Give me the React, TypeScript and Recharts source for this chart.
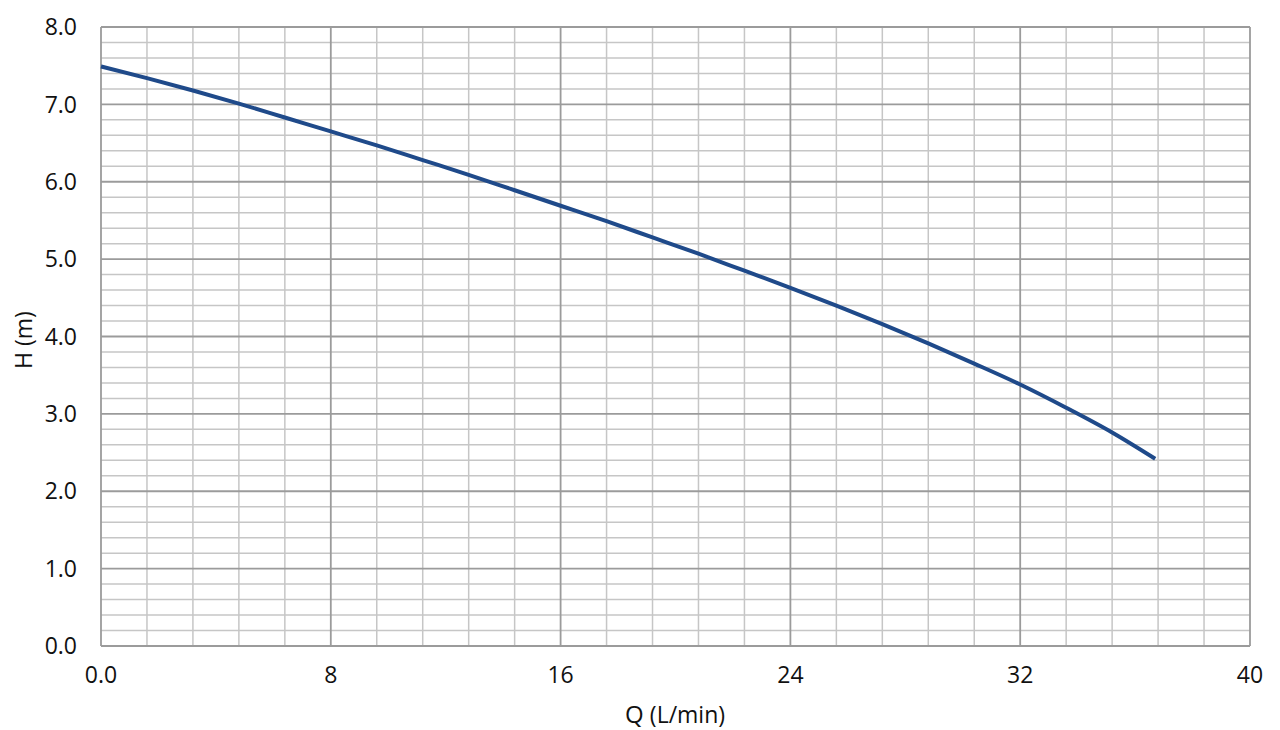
import React from "react";
import { LineChart, Line, XAxis, YAxis, ReferenceLine } from "recharts";

// Pump curve: head H (m) against flow Q (L/min)
const flowQ = [
  0, 1.6, 3.2, 4.8, 6.4, 8, 9.6, 11.2, 12.8, 14.4, 16, 17.6, 19.2, 20.8, 22.4, 24,
  25.6, 27.2, 28.8, 30.4, 32, 33.6, 35.2, 36.7,
];
const headH = [
  7.49, 7.34, 7.18, 7.01, 6.83, 6.65, 6.47, 6.28, 6.09, 5.89, 5.69, 5.49, 5.28, 5.07,
  4.85, 4.63, 4.4, 4.16, 3.91, 3.65, 3.38, 3.08, 2.76, 2.42,
];

const xTicks = [0, 8, 16, 24, 32, 40];
const yTicks = [0, 1, 2, 3, 4, 5, 6, 7, 8];
const xMinor = [
  1.6, 3.2, 4.8, 6.4, 9.6, 11.2, 12.8, 14.4, 17.6, 19.2, 20.8, 22.4, 25.6, 27.2, 28.8,
  30.4, 33.6, 35.2, 36.8, 38.4,
];
const yMinor = [
  0.2, 0.4, 0.6, 0.8, 1.2, 1.4, 1.6, 1.8, 2.2, 2.4, 2.6, 2.8, 3.2, 3.4, 3.6, 3.8,
  4.2, 4.4, 4.6, 4.8, 5.2, 5.4, 5.6, 5.8, 6.2, 6.4, 6.6, 6.8, 7.2, 7.4, 7.6, 7.8,
];

const data = flowQ.map((q, i) => ({ q, h: headH[i] }));

const FONT = "'Open Sans', 'Noto Sans', sans-serif";
const INK = "#111";
const MINOR = "#c6c6c6";
const MAJOR = "#9b9b9b";

const YTitle = () => (
  <text
    x={32}
    y={340}
    transform="rotate(-90 32 340)"
    textAnchor="middle"
    fontFamily={FONT}
    fontSize={23}
    fill={INK}
  >
    H (m)
  </text>
);

const XTitle = () => (
  <text x={675} y={723} textAnchor="middle" fontFamily={FONT} fill={INK}>
    <tspan fontSize={24}>Q </tspan>
    <tspan fontSize={23}>(L/min)</tspan>
  </text>
);

export default function App() {
  return (
    <div style={{ position: "absolute", left: 0, top: 0, background: "#fff" }}>
      <LineChart
        width={1280}
        height={730}
        data={data}
        margin={{ top: 27, right: 30, left: 0, bottom: 0 }}
      >
        <XAxis
          dataKey="q"
          type="number"
          domain={[0, 40]}
          ticks={xTicks}
          height={84}
          axisLine={false}
          tickLine={false}
          tickSize={0}
          tickMargin={21}
          tick={{ fontSize: 23, fill: INK, fontFamily: FONT }}
          tickFormatter={(v: number) => (v === 0 ? "0.0" : String(v))}
          label={<XTitle />}
        />
        <YAxis
          type="number"
          domain={[0, 8]}
          ticks={yTicks}
          width={101}
          axisLine={false}
          tickLine={false}
          tickSize={0}
          tickMargin={24}
          tick={{ fontSize: 23, fill: INK, fontFamily: FONT }}
          tickFormatter={(v: number) => v.toFixed(1)}
          label={<YTitle />}
        />
        {xMinor.map((v) => (
          <ReferenceLine key={"xm" + v} x={v} stroke={MINOR} strokeWidth={1.5} />
        ))}
        {yMinor.map((v) => (
          <ReferenceLine key={"ym" + v} y={v} stroke={MINOR} strokeWidth={1.5} />
        ))}
        {xTicks.map((v) => (
          <ReferenceLine key={"xM" + v} x={v} stroke={MAJOR} strokeWidth={1.8} />
        ))}
        {yTicks.map((v) => (
          <ReferenceLine key={"yM" + v} y={v} stroke={MAJOR} strokeWidth={1.8} />
        ))}
        <Line
          type="monotone"
          dataKey="h"
          stroke="#1f4a8a"
          strokeWidth={4}
          dot={false}
          isAnimationActive={false}
        />
      </LineChart>
    </div>
  );
}
